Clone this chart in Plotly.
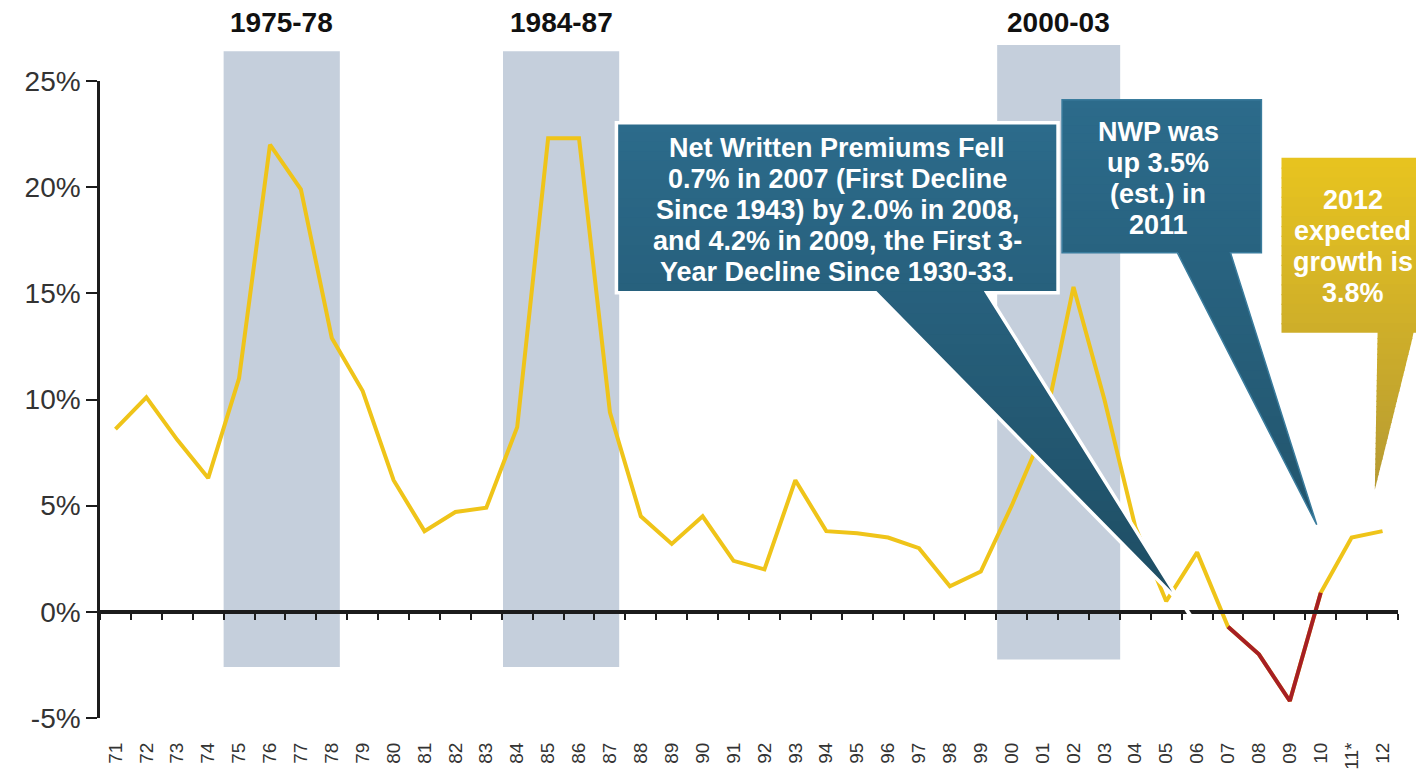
import plotly.graph_objects as go

# ---------------- data ----------------
years = ["71", "72", "73", "74", "75", "76", "77", "78", "79", "80",
         "81", "82", "83", "84", "85", "86", "87", "88", "89", "90",
         "91", "92", "93", "94", "95", "96", "97", "98", "99",
         "00", "01", "02", "03", "04", "05", "06", "07", "08", "09", "10",
         "11*", "12"]
growth = [8.6, 10.1, 8.1, 6.3, 11.0, 22.0, 19.9, 12.9, 10.4, 6.2,
          3.8, 4.7, 4.9, 8.7, 22.3, 22.3, 9.4, 4.5, 3.2, 4.5,
          2.4, 2.0, 6.2, 3.8, 3.7, 3.5, 3.0, 1.2, 1.9,
          5.0, 8.4, 15.3, 10.0, 4.0, 0.5, 2.8, -0.7, -2.0, -4.2, 0.9,
          3.5, 3.8]
decline_years = ["07", "08", "09", "10"]
decline_vals = [-0.7, -2.0, -4.2, 0.9]

hard_markets = ["1975-78", "1984-87", "2000-03"]
hm_x0 = [3.5, 12.54, 28.53]
hm_x1 = [7.26, 16.3, 32.51]
hm_top = [26.4, 26.4, 26.7]
hm_bot = [-2.6, -2.6, -2.25]

y_ticks = [-5, 0, 5, 10, 15, 20, 25]
y_labels = ["-5%", "0%", "5%", "10%", "15%", "20%", "25%"]

# ---------------- helpers ----------------
N = len(years)
Y_MIN, Y_MAX = -5, 25


def xp(i):
    return (i + 0.5) / N


def yp(v):
    return (v - Y_MIN) / (Y_MAX - Y_MIN)


def hex2rgb(h):
    h = h.lstrip("#")
    return tuple(int(h[k:k + 2], 16) for k in (0, 2, 4))


def mix(c1, c2, t):
    a, b = hex2rgb(c1), hex2rgb(c2)
    return "rgb(%d,%d,%d)" % tuple(round(a[k] + (b[k] - a[k]) * t) for k in range(3))


def poly_path(pts):
    return "M " + " L ".join("%.5f,%.5f" % p for p in pts) + " Z"


def callout(box, base, tip, c_top, c_bot, outline=None, ow=0, n_box=18, n_tri=30):
    """box=(i0,i1,vtop,vbot), base=(ia,ib), tip=(it,vt) in category index / value units."""
    x0, x1, ytop, ybot = xp(box[0]), xp(box[1]), yp(box[2]), yp(box[3])
    xa, xb = xp(base[0]), xp(base[1])
    xt, yt = xp(tip[0]), yp(tip[1])
    shapes = []
    H = ytop - yt
    eps = 0.002
    for k in range(n_box):
        ya = ytop - (ytop - ybot) * k / n_box
        yb = ytop - (ytop - ybot) * (k + 1) / n_box
        ybe = yb - eps if k < n_box - 1 else yb
        t = (ytop - (ya + yb) / 2) / H
        col = mix(c_top, c_bot, t)
        shapes.append(dict(type="path", xref="paper", yref="paper", layer="above",
                           path=poly_path([(x0, ya), (x1, ya), (x1, ybe), (x0, ybe)]),
                           fillcolor=col, line=dict(width=0)))

    def edges(y):
        s = min(max((ybot - y) / (ybot - yt), 0), 1)
        return xa + (xt - xa) * s, xb + (xt - xb) * s

    for k in range(n_tri):
        ya = ybot + eps if k == 0 else ybot - (ybot - yt) * k / n_tri
        yb = ybot - (ybot - yt) * (k + 1) / n_tri
        ybe = max(yb - eps, yt) if k < n_tri - 1 else yb
        t = (ytop - (ya + yb) / 2) / H
        col = mix(c_top, c_bot, min(t, 1))
        la, ra = edges(ya)
        lb, rb = edges(ybe)
        shapes.append(dict(type="path", xref="paper", yref="paper", layer="above",
                           path=poly_path([(la, ya), (ra, ya), (rb, ybe), (lb, ybe)]),
                           fillcolor=col, line=dict(width=0)))
    if outline:
        shapes.append(dict(type="path", xref="paper", yref="paper", layer="above",
                           path=poly_path([(x0, ytop), (x1, ytop), (x1, ybot), (xb, ybot),
                                           (xt, yt), (xa, ybot), (x0, ybot)]),
                           fillcolor="rgba(0,0,0,0)", line=dict(color=outline, width=ow)))
    return shapes


FONT = "Liberation Sans, Arial, sans-serif"

fig = go.Figure()

# invisible trace carrying the bottom label axis
fig.add_trace(go.Scatter(x=years, y=growth, xaxis="x2", yaxis="y", mode="lines",
                         line=dict(width=1, color="rgba(0,0,0,0)"), opacity=0,
                         hoverinfo="skip", showlegend=False))
fig.add_trace(go.Scatter(x=years, y=growth, mode="lines",
                         line=dict(color="#EFC419", width=4), showlegend=False))
fig.add_trace(go.Scatter(x=decline_years, y=decline_vals, mode="lines",
                         line=dict(color="#A61F24", width=4), showlegend=False))

shapes = []
for x0, x1, t, b in zip(hm_x0, hm_x1, hm_top, hm_bot):
    shapes.append(dict(type="rect", xref="x", yref="paper", x0=x0, x1=x1,
                       y0=yp(b), y1=yp(t), fillcolor="#C5CFDC", line=dict(width=0),
                       layer="below"))

# callouts
shapes += callout((16.21, 30.5, 23.03, 15.03), (24.6, 28.2), (34.52, 0.33),
                  "#2C6B8B", "#1E4D63", outline="white", ow=3.5)
# white sliver past the pointer tip that breaks the axis line
shapes.append(dict(type="line", xref="paper", yref="paper", layer="above",
                   x0=xp(34.5), y0=yp(0.45), x1=xp(34.95), y1=yp(-0.55),
                   line=dict(color="white", width=4)))
shapes += callout((30.63, 37.08, 24.12, 16.91), (34.36, 36.08), (38.87, 4.1),
                  "#2C6B8B", "#22556D", outline="#3A7C9D", ow=1.5)
shapes += callout((37.73, 42.7, 21.38, 13.14), (40.84, 42.01), (40.75, 5.75),
                  "#E8C41F", "#B69A33")

annotations = []
for name, x0, x1 in zip(hard_markets, hm_x0, hm_x1):
    annotations.append(dict(text="<b>%s</b>" % name, xref="paper", yref="paper",
                            x=xp((x0 + x1) / 2), y=yp(27.74), showarrow=False,
                            xanchor="center", yanchor="middle",
                            font=dict(family=FONT, size=28, color="#111111")))

STEP = 1.465


def text_lines(lines, xc, v_first, size=27):
    out = []
    for k, ln in enumerate(lines):
        out.append(dict(text="<b>%s</b>" % ln, xref="paper", yref="paper",
                         x=xp(xc), y=yp(v_first - k * STEP), showarrow=False,
                         xanchor="center", yanchor="middle",
                         font=dict(family=FONT, size=size, color="white")))
    return out


annotations += text_lines(["Net Written Premiums Fell",
                           "0.7% in 2007 (First Decline",
                           "Since 1943) by 2.0% in 2008,",
                           "and 4.2% in 2009, the First 3-",
                           "Year Decline Since 1930-33."], 23.35, 21.85)
annotations += text_lines(["NWP was", "up 3.5%", "(est.) in", "2011"], 33.74, 22.6)
annotations += text_lines(["2012", "expected", "growth is", "3.8%"], 40.03, 19.4)

# the page body adds an 8px margin, so the figure is 8px smaller than the window
fig.update_layout(
    width=1416, height=764,
    margin=dict(l=92, r=26, t=73, b=54, autoexpand=False),
    paper_bgcolor="white", plot_bgcolor="rgba(0,0,0,0)",
    showlegend=False,
    font=dict(family=FONT, color="#333333"),
    shapes=shapes, annotations=annotations,
    xaxis=dict(type="category", categoryorder="array", categoryarray=years,
               range=[-0.5, N - 0.5], anchor="free", position=yp(0),
               showline=True, linecolor="#1c1c1c", linewidth=3.5,
               ticks="outside", tickson="boundaries", ticklen=6, tickwidth=2,
               tickcolor="#1c1c1c", showticklabels=False, automargin=False,
               showgrid=False, zeroline=False),
    xaxis2=dict(type="category", categoryorder="array", categoryarray=years,
                range=[-0.5, N - 0.5], overlaying="x", anchor="y", side="bottom",
                showline=False, ticks="outside", ticklen=16, tickcolor="rgba(0,0,0,0)",
                tickangle=-90, tickfont=dict(family=FONT, size=19, color="#333333"),
                automargin=False, showgrid=False, zeroline=False),
    yaxis=dict(range=[Y_MIN, Y_MAX], tickmode="array", tickvals=y_ticks, ticktext=y_labels,
               showline=True, linecolor="#1c1c1c", linewidth=2.5,
               ticks="outside", ticklen=11, tickwidth=2, tickcolor="#1c1c1c",
               tickfont=dict(family=FONT, size=28, color="#333333"),
               automargin=False, showgrid=False, zeroline=False),
)

fig.write_html("out.html")
